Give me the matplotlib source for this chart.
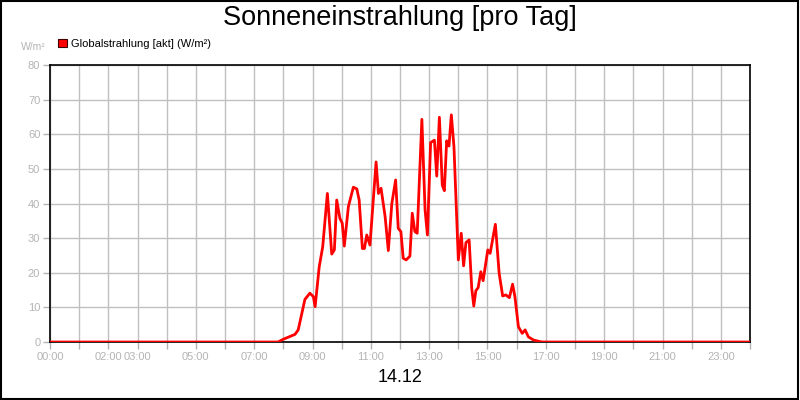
import matplotlib.pyplot as plt
from matplotlib.patches import Patch, Rectangle

plt.rcParams['font.family'] = ['Liberation Sans', 'DejaVu Sans']

# time of day in hours and global radiation in W/m²
hours = [0.0, 7.82, 8.00, 8.40, 8.51, 8.74, 8.91, 9.03, 9.09, 9.23, 9.35,
         9.51, 9.66, 9.75, 9.83, 9.94, 10.02, 10.09, 10.23, 10.40, 10.52,
         10.60, 10.71, 10.78, 10.86, 10.97, 11.18, 11.26, 11.35, 11.49,
         11.60, 11.72, 11.85, 11.94, 12.03, 12.11, 12.21, 12.34, 12.42,
         12.51, 12.59, 12.75, 12.86, 12.94, 13.05, 13.18, 13.26, 13.35,
         13.45, 13.52, 13.60, 13.68, 13.76, 13.85, 14.00, 14.10, 14.18,
         14.26, 14.37, 14.46, 14.53, 14.60, 14.68, 14.77, 14.85, 15.01,
         15.09, 15.27, 15.40, 15.52, 15.63, 15.75, 15.86, 15.94, 16.06,
         16.19, 16.29, 16.40, 16.57, 16.80, 16.90, 24.0]
radiation = [0, 0, 0.8, 2.2, 3.5, 12.3, 14.1, 13.1, 10.2, 21.7, 27.5,
             42.9, 25.4, 26.6, 41.0, 35.7, 34.3, 27.7, 39.1, 44.7, 44.2,
             41.0, 27.0, 27.0, 30.9, 28.0, 52.0, 42.9, 44.4, 36.2,
             26.4, 40.0, 46.8, 32.8, 31.9, 24.2, 23.7, 24.8, 37.2,
             31.9, 31.4, 64.3, 38.1, 30.9, 57.6, 58.3, 47.9, 64.9,
             45.3, 43.7, 58.1, 56.6, 65.6, 56.4, 23.7, 31.4, 22.0,
             28.7, 29.5, 15.5, 10.4, 14.8, 15.7, 20.3, 17.7, 26.6,
             25.6, 34.0, 19.8, 13.3, 13.6, 12.8, 16.7, 13.1, 4.4,
             2.5, 3.5, 1.5, 0.6, 0.1, 0, 0]

hour_ticks = list(range(0, 25))
labelled_hours = [0, 2, 3, 5, 7, 9, 11, 13, 15, 17, 19, 21, 23]
y_ticks = [0, 10, 20, 30, 40, 50, 60, 70, 80]

grey = '#b4b4b4'

fig = plt.figure(figsize=(8, 4), dpi=100, facecolor='white')
ax = fig.add_axes([50 / 800, 58 / 400, 700 / 800, 277 / 400])

ax.plot(hours, radiation, color='#ff0000', lw=2, solid_joinstyle='round', zorder=3)

ax.set_xlim(0, 24)
ax.set_ylim(0, 80)
ax.set_xticks(hour_ticks)
ax.set_xticklabels(['%02d:00' % h if h in labelled_hours else '' for h in hour_ticks])
ax.set_yticks(y_ticks)
ax.grid(True, color='#c0c0c0', lw=1)
ax.set_axisbelow(True)
ax.tick_params(axis='both', colors=grey, labelsize=8, length=5, width=1, pad=2)
for s in ax.spines.values():
    s.set_color('black')
    s.set_linewidth(1.2)

fig.text(0.5, 1 - 18 / 400, 'Sonneneinstrahlung [pro Tag]', ha='center', va='center', fontsize=19.5)
fig.text(0.5, 0.055, '14.12', ha='center', va='center', fontsize=13)
fig.text(46 / 800, 1 - 47 / 400, 'W/m²', ha='right', va='center', fontsize=7.5, color=grey)

leg = fig.legend(handles=[Patch(facecolor='#ff0000', edgecolor='#400000', lw=0.8,
                                label='Globalstrahlung [akt] (W/m²)')],
                 loc='center left', bbox_to_anchor=(58 / 800, 1 - 44 / 400),
                 frameon=False, fontsize=8, handlelength=0.8, handleheight=0.8,
                 handletextpad=0.4, borderpad=0, borderaxespad=0)

fig.patches.append(Rectangle((0.001, 0.002), 0.997, 0.996, transform=fig.transFigure,
                             fill=False, edgecolor='black', lw=1.5))

fig.savefig('out.png', dpi=100, facecolor='white')
